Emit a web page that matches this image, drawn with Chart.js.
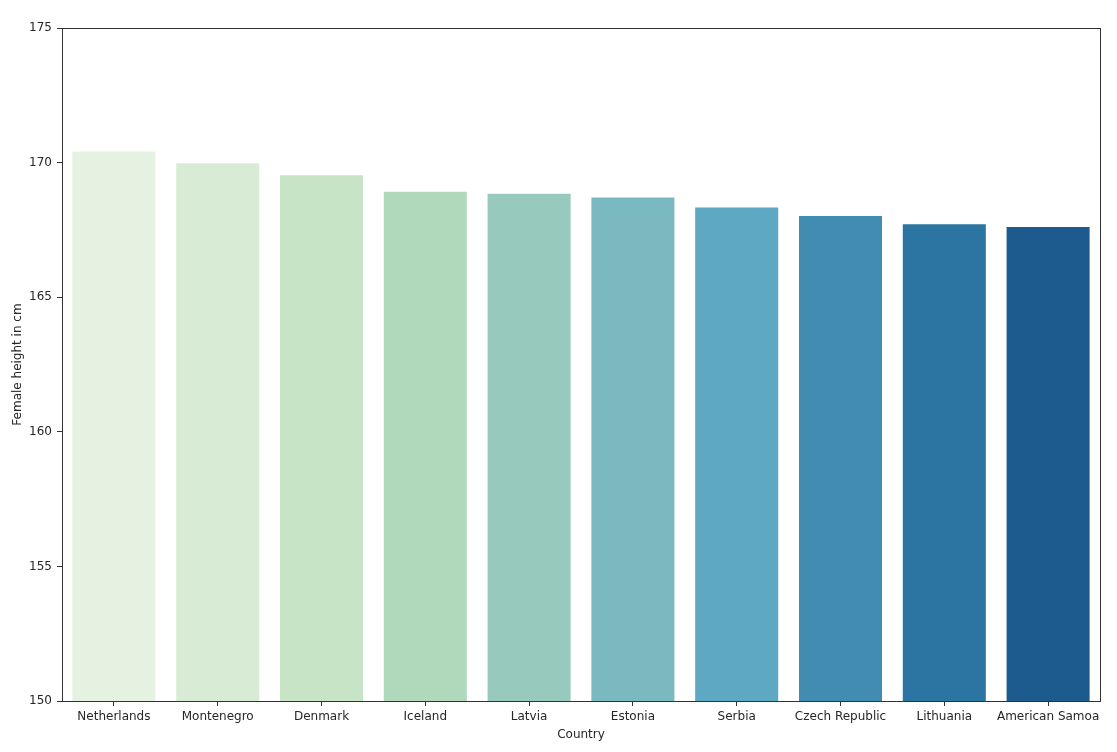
<!DOCTYPE html>
<html>
<head>
<meta charset="utf-8">
<script src="https://cdn.jsdelivr.net/npm/chart.js@4"></script>
<style>
html,body{margin:0;padding:0;background:#fff;}
#wrap{width:1117px;height:752px;}
</style>
</head>
<body>
<div id="wrap"><canvas id="c" width="1117" height="752"></canvas></div>
<script>
const categories = ["Netherlands","Montenegro","Denmark","Iceland","Latvia","Estonia","Serbia","Czech Republic","Lithuania","American Samoa"];
const heights = [170.41, 169.98, 169.53, 168.92, 168.84, 168.70, 168.33, 168.02, 167.71, 167.61];
const barColors = ["#e5f2e1","#d8ecd5","#c8e4c6","#b0d8bb","#97c9bc","#7ab9c0","#5ea8c4","#438cb1","#2c75a3","#1d5b8e"];
const yTicks = [150,155,160,165,170,175];

const frame = {
  id:'frame',
  afterDraw(chart){
    const a = chart.chartArea, ctx = chart.ctx;
    ctx.save();
    ctx.strokeStyle = '#333';
    ctx.lineWidth = 1;
    ctx.strokeRect(Math.round(a.left)+0.5, Math.round(a.top)+0.5, Math.round(a.right-a.left), Math.round(a.bottom-a.top));
    ctx.restore();
  }
};

const font = {family:'"DejaVu Sans", sans-serif', size:12};
new Chart(document.getElementById('c'), {
  type:'bar',
  data:{labels:categories, datasets:[{data:heights, backgroundColor:barColors, borderWidth:0, barPercentage:0.8, categoryPercentage:1.0}]},
  options:{
    responsive:false, animation:false,
    layout:{padding:{top:28, right:17, bottom:10, left:0}},
    plugins:{legend:{display:false}, tooltip:{enabled:false}},
    scales:{
      x:{
        grid:{display:true, drawOnChartArea:false, drawTicks:true, tickLength:5, color:'#333', offset:false},
        border:{display:true, color:'#333'},
        ticks:{color:'#262626', font:font, padding:4, maxRotation:0, autoSkip:false},
        title:{display:true, text:'Country', color:'#262626', font:font, padding:{top:2,bottom:0}},
        afterFit(s){ s.height = 41; }
      },
      y:{
        min:150, max:175,
        afterBuildTicks(s){ s.ticks = yTicks.map(v=>({value:v})); },
        grid:{display:true, drawOnChartArea:false, drawTicks:true, tickLength:5, color:'#333'},
        border:{display:true, color:'#333'},
        ticks:{color:'#262626', font:font, padding:5},
        title:{display:true, text:'Female height in cm', color:'#262626', font:font, padding:{top:11,bottom:4}},
        afterFit(s){ s.width = 62; }
      }
    }
  },
  plugins:[frame]
});
</script>
</body>
</html>
